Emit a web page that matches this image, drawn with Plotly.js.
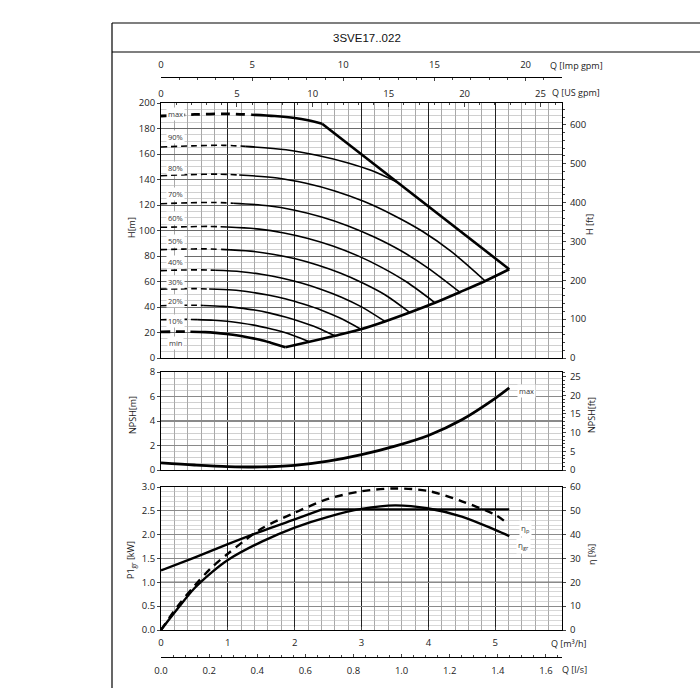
<!DOCTYPE html>
<html><head><meta charset="utf-8">
<script src="https://cdn.plot.ly/plotly-3.0.1.min.js"></script>
<style>html,body{margin:0;padding:0;background:#fff}#chart{width:700px;height:700px}</style>
</head><body><div id="chart"></div>
<script>
// ---------- DATA (Q in m3/h) ----------
const titleText = "3SVE17..022";
// H curves: dashed (low-flow) and solid parts
const qMaxDash = [0, 0.5, 1.0, 1.35];        const hMaxDash = [189.8, 191.0, 191.5, 190.8];
const qMax = [1.35, 1.7, 2.0, 2.2, 2.41];    const hMax = [190.8, 189.8, 188.3, 186.5, 183.8];
const qMaxLimit = [2.41, 5.21];              const hMaxLimit = [183.8, 69.6];
const q90Dash = [0, 0.47, 0.93, 1.26];       const h90Dash = [165.5, 166.4, 166.8, 166.0];
const q90 = [1.26, 1.87, 2.33, 2.8, 3.15, 3.52]; const h90 = [166.0, 163.3, 159.0, 153.0, 147.0, 138.3];
const q80Dash = [0, 0.43, 0.87, 1.17];       const h80Dash = [143.0, 143.8, 144.2, 143.5];
const q80 = [1.17, 1.74, 2.17, 2.6, 3.04, 3.47, 3.91, 4.34, 4.85]; const h80 = [143.5, 141.2, 137.0, 131.0, 122.7, 112.2, 99.4, 83.6, 60.4];
const q70Dash = [0, 0.4, 0.8, 1.08];         const h70Dash = [121.0, 121.7, 122.0, 121.4];
const q70 = [1.08, 1.6, 2.0, 2.39, 2.79, 3.19, 3.59, 3.99, 4.47]; const h70 = [121.4, 119.4, 115.9, 110.8, 103.8, 94.9, 84.1, 70.7, 51.6];
const q60Dash = [0, 0.37, 0.73, 0.99];       const h60Dash = [102.5, 102.9, 103.2, 102.7];
const q60 = [0.99, 1.47, 1.84, 2.2, 2.57, 2.94, 3.3, 3.67, 4.1]; const h60 = [102.7, 101.1, 98.1, 93.8, 87.9, 80.3, 71.1, 59.8, 43.3];
const q50Dash = [0, 0.33, 0.67, 0.9];        const h50Dash = [85.0, 85.4, 85.6, 85.2];
const q50 = [0.9, 1.34, 1.67, 2.01, 2.34, 2.68, 3.01, 3.35, 3.72]; const h50 = [85.2, 83.8, 81.4, 77.8, 72.9, 66.6, 59.0, 49.6, 35.7];
const q40Dash = [0, 0.3, 0.6, 0.81];         const h40Dash = [68.5, 69.0, 69.1, 68.8];
const q40 = [0.81, 1.2, 1.5, 1.8, 2.1, 2.4, 2.7, 3.0, 3.35]; const h40 = [68.8, 67.7, 65.7, 62.8, 58.8, 53.8, 47.7, 40.1, 28.7];
const q30Dash = [0, 0.27, 0.53, 0.72];       const h30Dash = [54.0, 54.2, 54.4, 54.1];
const q30 = [0.72, 1.07, 1.33, 1.6, 1.87, 2.13, 2.4, 2.67, 2.99]; const h30 = [54.1, 53.3, 51.7, 49.4, 46.3, 42.3, 37.5, 31.5, 22.6];
const q20Dash = [0, 0.23, 0.47, 0.63];       const h20Dash = [41.0, 41.3, 41.4, 41.2];
const q20 = [0.63, 0.93, 1.16, 1.4, 1.63, 1.86, 2.09, 2.33, 2.6]; const h20 = [41.2, 40.5, 39.3, 37.6, 35.2, 32.2, 28.5, 24.0, 17.4];
const q10Dash = [0, 0.2, 0.4, 0.54];         const h10Dash = [30.0, 30.2, 30.3, 30.1];
const q10 = [0.54, 0.79, 0.99, 1.19, 1.39, 1.59, 1.79, 1.99, 2.22]; const h10 = [30.1, 29.6, 28.8, 27.5, 25.8, 23.5, 20.9, 17.5, 12.7];
const qMinDash = [0, 0.16, 0.33, 0.44];      const hMinDash = [20.5, 20.6, 20.7, 20.6];
const qMin = [0.44, 0.66, 0.82, 0.98, 1.15, 1.31, 1.48, 1.64, 1.86]; const hMin = [20.6, 20.3, 19.7, 18.8, 17.6, 16.1, 14.3, 12.0, 8.5];
// lower end envelope
const qEnv = [1.86, 2.22, 2.6, 2.99, 3.35, 3.72, 4.1, 4.47, 4.85, 5.21];
const hEnv = [8.5, 12.7, 17.4, 22.6, 28.7, 35.7, 43.3, 51.6, 60.4, 69.6];
// curve labels
const curveLabels = ["max", "90%", "80%", "70%", "60%", "50%", "40%", "30%", "20%", "10%", "min"];
const curveLabelH = [191.4, 173.1, 149.3, 128.9, 109.6, 92.0, 75.3, 59.4, 45.1, 29.4, 12.0];
// NPSH
const qNpsh = [0, 0.5, 1.0, 1.5, 2.0, 2.5, 3.0, 3.5, 4.0, 4.5, 5.0, 5.21];
const npsh = [0.58, 0.41, 0.28, 0.25, 0.38, 0.72, 1.25, 1.95, 2.82, 4.1, 5.85, 6.7];
// Power P1gr [kW]
const qP1 = [0, 0.5, 1.0, 1.5, 2.0, 2.41];
const p1 = [1.25, 1.52, 1.8, 2.07, 2.32, 2.53];
const qP1Limit = [2.41, 5.21];
const p1Limit = [2.53, 2.53];
// efficiencies [%]
const qEtaP = [0, 0.25, 0.5, 0.75, 1.0, 1.25, 1.5, 2.0, 2.5, 3.0, 3.5, 4.0, 4.5, 5.0, 5.17];
const etaP = [0, 10, 18.5, 26, 32, 37.5, 42.5, 49.2, 55, 58.2, 59.4, 58.3, 54, 48.3, 45];
const qEtaGr = [0, 0.25, 0.5, 0.75, 1.0, 1.5, 2.0, 2.5, 3.0, 3.5, 4.0, 4.5, 5.0, 5.21];
const etaGr = [0, 9, 17.5, 24, 29.4, 37, 43, 47.5, 50.8, 52.3, 51, 47.6, 42, 39.4];

// ---------- HELPERS ----------
const W = 700, Hh = 700;
const px = v => v / W, py = v => 1 - v / Hh;
function ln(x, y, xa, ya, w, dash, straight) {
  return {type: 'scatter', mode: 'lines', x: x, y: y, xaxis: xa, yaxis: ya,
    line: {color: '#000', width: w, dash: dash || 'solid', shape: straight ? 'linear' : 'spline', smoothing: 0.9},
    hoverinfo: 'skip', showlegend: false};
}
function dummy(xa, ya) {
  return {type: 'scatter', mode: 'markers', x: [0], y: [0], xaxis: xa, yaxis: ya,
    marker: {opacity: 0, size: 1}, hoverinfo: 'skip', showlegend: false};
}
const thinDash = '6px,4px';
const traces = [
  ln(q90Dash, h90Dash, 'x', 'y', 1.6, thinDash), ln(q90, h90, 'x', 'y', 1.6),
  ln(q80Dash, h80Dash, 'x', 'y', 1.6, thinDash), ln(q80, h80, 'x', 'y', 1.6),
  ln(q70Dash, h70Dash, 'x', 'y', 1.6, thinDash), ln(q70, h70, 'x', 'y', 1.6),
  ln(q60Dash, h60Dash, 'x', 'y', 1.6, thinDash), ln(q60, h60, 'x', 'y', 1.6),
  ln(q50Dash, h50Dash, 'x', 'y', 1.6, thinDash), ln(q50, h50, 'x', 'y', 1.6),
  ln(q40Dash, h40Dash, 'x', 'y', 1.6, thinDash), ln(q40, h40, 'x', 'y', 1.6),
  ln(q30Dash, h30Dash, 'x', 'y', 1.6, thinDash), ln(q30, h30, 'x', 'y', 1.6),
  ln(q20Dash, h20Dash, 'x', 'y', 1.6, thinDash), ln(q20, h20, 'x', 'y', 1.6),
  ln(q10Dash, h10Dash, 'x', 'y', 1.6, thinDash), ln(q10, h10, 'x', 'y', 1.6),
  ln(qMaxDash, hMaxDash, 'x', 'y', 2.8, '9px,6px'), ln(qMax, hMax, 'x', 'y', 2.6),
  ln(qMaxLimit, hMaxLimit, 'x', 'y', 2.6, null, true),
  ln(qMinDash, hMinDash, 'x', 'y', 2.8, '9px,6px'), ln(qMin, hMin, 'x', 'y', 2.6),
  ln(qEnv, hEnv, 'x', 'y', 2.6),
  ln(qNpsh, npsh, 'x2', 'y3', 2.8),
  ln(qP1, p1, 'x3', 'y5', 2.4), ln(qP1Limit, p1Limit, 'x3', 'y5', 2.4, null, true),
  ln(qEtaP, etaP, 'x3', 'y6', 2.4, '8px,6px'),
  ln(qEtaGr, etaGr, 'x3', 'y6', 2.4),
  dummy('x4', 'y'), dummy('x5', 'y'), dummy('x', 'y2'), dummy('x2', 'y4'), dummy('x6', 'y5')
];

const FONT = 'Open Sans, Noto Sans, sans-serif';
const tf = {family: FONT, size: 9.5, color: '#222'};
const xDom = [px(161), px(562)];
const gridX = {
  range: [0, 5.999], dtick: 1, showgrid: true, gridcolor: '#222', gridwidth: 1,
  minor: {dtick: 0.2, tick0: 0, showgrid: true, gridcolor: '#6e6e6e', gridwidth: 0.6},
  showline: true, mirror: true, linecolor: '#000', linewidth: 1, zeroline: false,
  domain: xDom, tickfont: tf, fixedrange: true
};
const layout = {
  width: 700, height: 700, margin: {l: 0, r: 0, t: 0, b: 0},
  paper_bgcolor: '#fff', plot_bgcolor: '#fff', showlegend: false,
  font: {family: FONT, color: '#222'},
  xaxis: Object.assign({}, gridX, {anchor: 'y', showticklabels: false, ticks: ''}),
  yaxis: {domain: [py(358), py(103)], range: [0, 200], dtick: 20, anchor: 'x',
    ticks: 'outside', ticklen: 3, tickfont: tf, showgrid: true, gridcolor: '#6a6a6a', gridwidth: 1,
    minor: {dtick: 5, showgrid: true, gridcolor: '#b0b0b0', gridwidth: 0.6},
    showline: true, mirror: true, linecolor: '#000', zeroline: false},
  yaxis2: {overlaying: 'y', side: 'right', anchor: 'x', range: [0, 656.17], dtick: 100,
    ticks: 'outside', ticklen: 3, tickfont: tf, showgrid: false, zeroline: false, ticklabelstandoff: 2,
    minor: {dtick: 20, ticks: 'outside', ticklen: 2}},
  xaxis4: {overlaying: 'x', side: 'top', anchor: 'y', range: [0, 26.417], dtick: 5,
    ticks: 'inside', ticklen: 4, tickfont: tf, showgrid: false, zeroline: false, showline: false,
    ticklabelstandoff: 3,
    minor: {dtick: 1, ticks: 'inside', ticklen: 2}},
  xaxis5: {overlaying: 'x', side: 'top', anchor: 'free', position: py(77), range: [0, 21.996], dtick: 5,
    ticks: 'inside', ticklen: 3, tickfont: tf, showgrid: false, zeroline: false,
    showline: true, linecolor: '#000', linewidth: 1.2, ticklabelstandoff: 5,
    minor: {dtick: 1, ticks: 'inside', ticklen: 2}},
  xaxis2: Object.assign({}, gridX, {anchor: 'y3', showticklabels: false, ticks: ''}),
  yaxis3: {domain: [py(470), py(372)], range: [0, 8], dtick: 2, anchor: 'x2',
    ticks: 'outside', ticklen: 3, tickfont: tf, showgrid: true, gridcolor: '#8a8a8a', gridwidth: 1.2,
    minor: {dtick: 0.5, showgrid: true, gridcolor: '#b0b0b0', gridwidth: 0.6},
    showline: true, mirror: true, linecolor: '#000', zeroline: false},
  yaxis4: {overlaying: 'y3', side: 'right', anchor: 'x2', range: [0, 26.247], dtick: 5,
    ticks: 'outside', ticklen: 3, tickfont: tf, showgrid: false, zeroline: false, ticklabelstandoff: 2,
    minor: {dtick: 1, ticks: 'outside', ticklen: 2}},
  xaxis3: Object.assign({}, gridX, {anchor: 'y5', showticklabels: true, ticks: 'inside', ticklen: 3, ticklabelstandoff: 4}),
  yaxis5: {domain: [py(630), py(487)], range: [0, 3], dtick: 0.5, tickformat: '.1f', anchor: 'x3',
    ticks: 'outside', ticklen: 3, tickfont: tf, showgrid: true, gridcolor: '#8a8a8a', gridwidth: 1.2,
    minor: {dtick: 0.1, showgrid: true, gridcolor: '#bdbdbd', gridwidth: 0.6},
    showline: true, mirror: true, linecolor: '#000', zeroline: false},
  yaxis6: {overlaying: 'y5', side: 'right', anchor: 'x3', range: [0, 60], dtick: 10,
    ticks: 'outside', ticklen: 3, tickfont: tf, showgrid: false, zeroline: false, ticklabelstandoff: 2},
  xaxis6: {overlaying: 'x3', side: 'bottom', anchor: 'free', position: py(657), range: [0, 1.66667],
    dtick: 0.2, tickformat: '.1f', ticks: 'inside', ticklen: 3, tickfont: tf, showgrid: false,
    zeroline: false, showline: true, linecolor: '#000', linewidth: 1.2, ticklabelstandoff: 4,
    minor: {dtick: 0.05, ticks: 'inside', ticklen: 2}},
  shapes: [
    {type: 'line', xref: 'paper', yref: 'paper', x0: px(112), x1: px(112), y0: py(23), y1: py(688), line: {color: '#000', width: 1.2}},
    {type: 'line', xref: 'paper', yref: 'paper', x0: px(112), x1: 1, y0: py(23), y1: py(23), line: {color: '#000', width: 1.2}},
    {type: 'line', xref: 'paper', yref: 'paper', x0: px(112), x1: 1, y0: py(52), y1: py(52), line: {color: '#000', width: 1.2}},
    {type: 'line', xref: 'x2 domain', yref: 'y3', x0: 0, x1: 1, y0: 4, y1: 4, line: {color: '#000', width: 1.2}, layer: 'below'},
    {type: 'line', xref: 'x3 domain', yref: 'y5', x0: 0, x1: 1, y0: 1, y1: 1, line: {color: '#000', width: 1.2}, layer: 'below'}
  ],
  annotations: []
};
const ann = layout.annotations;
const nameFont = {family: FONT, size: 9, color: '#222'};
function pa(text, x, y, opts) {
  ann.push(Object.assign({text: text, xref: 'paper', yref: 'paper', x: px(x), y: py(y),
    xanchor: 'center', yanchor: 'middle', showarrow: false, font: nameFont}, opts || {}));
}
pa(titleText, 367, 38, {font: {family: 'Liberation Sans, Arial, sans-serif', size: 11.5, color: '#111'}});
pa('Q [Imp gpm]', 548, 65, {xanchor: 'left'});
pa('Q [US gpm]', 550, 92, {xanchor: 'left'});
pa('Q [m³/h]', 549, 643, {xanchor: 'left'});
pa('Q [l/s]', 560, 669, {xanchor: 'left'});
pa('H[m]', 131, 228, {textangle: -90});
pa('H [ft]', 590, 225, {textangle: -90});
pa('NPSH[m]', 132, 415, {textangle: -90});
pa('NPSH[ft]', 591, 415, {textangle: -90});
pa('P1<sub>gr</sub> [kW]', 131, 560, {textangle: -90});
pa('η [%]', 591, 555, {textangle: -90});
pa('max', 526, 391, {font: {family: FONT, size: 7.5, color: '#333'}, bgcolor: '#fff', borderpad: 1});
pa('η<sub>p</sub>', 525, 528, {font: {family: FONT, size: 8, color: '#333'}, bgcolor: '#fff'});
pa('η<sub>gr</sub>', 523, 545, {font: {family: FONT, size: 8, color: '#333'}, bgcolor: '#fff'});
curveLabels.forEach((t, i) => {
  ann.push({text: t, xref: 'x', yref: 'y', x: 0.22, y: curveLabelH[i], showarrow: false,
    xanchor: 'center', yanchor: 'middle', bgcolor: '#fff', borderpad: 1,
    font: {family: FONT, size: 7.5, color: '#333'}});
});
Plotly.newPlot('chart', traces, layout, {staticPlot: true, displayModeBar: false});
</script></body></html>
